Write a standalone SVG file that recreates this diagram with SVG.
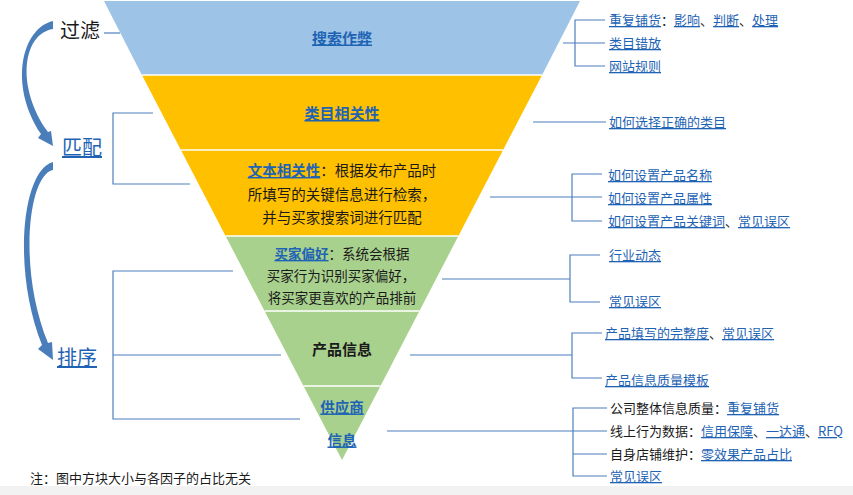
<svg xmlns="http://www.w3.org/2000/svg" width="853" height="495" viewBox="0 0 853 495">
<style>
.t{font-family:"Noto Sans CJK SC","Microsoft YaHei",sans-serif}
.lk{fill:#1F64B4;text-decoration:underline}
.bk{fill:#1a1a1a}
.r{font-size:13px}
.b{font-weight:bold}
.ln{stroke:#4F7FBE;stroke-width:1.2;fill:none}
.sep{stroke:#ffffff;stroke-width:1.5}
.arr{fill:#4A7EBA}
</style>
<rect x="0" y="0" width="853" height="495" fill="#ffffff"/>
<rect x="0" y="486" width="853" height="9" fill="#f2f2f2"/>

<g id="band-search-cheat">
<polygon points="104,1 580,1 542.1,75 141.9,75" fill="#9DC3E6"/>
<text class="t b lk" x="342" y="43.5" font-size="15" text-anchor="middle">搜索作弊</text>
</g>
<g id="band-category">
<polygon points="141.9,75 542.1,75 503.1,150 180.9,150" fill="#FFC000"/>
<text class="t b lk" x="342" y="119" font-size="15" text-anchor="middle">类目相关性</text>
</g>
<g id="band-text">
<polygon points="180.9,150 503.1,150 458.4,236 225.6,236" fill="#FFC000"/>
<text class="t" x="342" y="176" font-size="14.5" text-anchor="middle"><tspan class="lk b">文本相关性</tspan><tspan class="bk">：根据发布产品时</tspan></text>
<text class="t bk" x="342" y="199.5" font-size="14.5" text-anchor="middle">所填写的关键信息进行检索，</text>
<text class="t bk" x="342" y="222.5" font-size="14.5" text-anchor="middle">并与买家搜索词进行匹配</text>
</g>
<g id="band-buyer">
<polygon points="225.6,236 458.4,236 419.4,311 264.6,311" fill="#A9D18E"/>
<text class="t" x="342" y="259" font-size="13.5" text-anchor="middle"><tspan class="lk b">买家偏好</tspan><tspan class="bk">：系统会根据</tspan></text>
<text class="t bk" x="341" y="281" font-size="13.5" text-anchor="middle">买家行为识别买家偏好，</text>
<text class="t bk" x="342" y="303" font-size="13.5" text-anchor="middle">将买家更喜欢的产品排前</text>
</g>
<g id="band-product">
<polygon points="264.6,311 419.4,311 380.5,386 303.5,386" fill="#A9D18E"/>
<text class="t b bk" x="342" y="354.5" font-size="15" text-anchor="middle">产品信息</text>
</g>
<g id="band-supplier">
<polygon points="303.5,386 380.5,386 342,460" fill="#A9D18E"/>
<text class="t b lk" x="342" y="412.5" font-size="14.5" text-anchor="middle">供应商</text>
<text class="t b lk" x="342" y="445.5" font-size="14.5" text-anchor="middle">信息</text>
</g>
<g id="separators">
<line class="sep" x1="141.9" y1="75" x2="542.1" y2="75"/>
<line class="sep" x1="180.9" y1="150" x2="503.1" y2="150"/>
<line class="sep" x1="225.6" y1="236" x2="458.4" y2="236"/>
<line class="sep" x1="264.6" y1="311" x2="419.4" y2="311"/>
<line class="sep" x1="303.5" y1="386" x2="380.5" y2="386"/>
</g>

<g id="stage-filter"><text class="t bk" x="60" y="38" font-size="20">过滤</text></g>
<g id="stage-match"><text class="t lk" x="62" y="155" font-size="20">匹配</text></g>
<g id="stage-rank"><text class="t lk" x="57" y="365" font-size="20">排序</text></g>

<g id="connectors">
<path class="arr" d="M53,21 C22,28 8,85 41,134 L38,138 L53,146 L51,131 L48,132 C16,88 22,34 53,29 Z"/>
<path class="arr" d="M53,162 C22,170 12,270 42,345 L38,349 L53,360 L52,342 L48,343 C18,270 28,175 53,170 Z"/>
<path class="ln" d="M104,33 H120"/>
<path class="ln" d="M153,113 H113 V184 H190"/>
<path class="ln" d="M233,271 H113 V419 H300 M113,355 H281"/>
<path class="ln" d="M563,43 H605 M605,20 H575 V66 H605"/>
<path class="ln" d="M533,122 H606"/>
<path class="ln" d="M490,197 H602 M602,174 H572 V221 H602"/>
<path class="ln" d="M442,279 H570 M600,255 H570 V302 H600"/>
<path class="ln" d="M410,355 H572 M602,333 H572 V378 H602"/>
<path class="ln" d="M387,431 H607 M607,408 H573 V476 H607 M573,454 H607"/>
</g>

<g id="labels-cheat">
<text class="t r" x="609" y="25"><tspan class="lk">重复铺货</tspan><tspan class="bk">：</tspan><tspan class="lk">影响</tspan><tspan class="bk">、</tspan><tspan class="lk">判断</tspan><tspan class="bk">、</tspan><tspan class="lk">处理</tspan></text>
<text class="t r lk" x="609" y="48">类目错放</text>
<text class="t r lk" x="609" y="71">网站规则</text>
</g>
<g id="labels-category"><text class="t r lk" x="609" y="127">如何选择正确的类目</text></g>
<g id="labels-text">
<text class="t r lk" x="608" y="180">如何设置产品名称</text>
<text class="t r lk" x="608" y="203">如何设置产品属性</text>
<text class="t r" x="608" y="226"><tspan class="lk">如何设置产品关键词</tspan><tspan class="bk">、</tspan><tspan class="lk">常见误区</tspan></text>
</g>
<g id="labels-buyer">
<text class="t r lk" x="609" y="260">行业动态</text>
<text class="t r lk" x="609" y="306">常见误区</text>
</g>
<g id="labels-product">
<text class="t r" x="605" y="338"><tspan class="lk">产品填写的完整度</tspan><tspan class="bk">、</tspan><tspan class="lk">常见误区</tspan></text>
<text class="t r lk" x="605" y="385">产品信息质量模板</text>
</g>
<g id="labels-supplier">
<text class="t r" x="610" y="413"><tspan class="bk">公司整体信息质量：</tspan><tspan class="lk">重复铺货</tspan></text>
<text class="t r" x="610" y="436"><tspan class="bk">线上行为数据：</tspan><tspan class="lk">信用保障</tspan><tspan class="bk">、</tspan><tspan class="lk">一达通</tspan><tspan class="bk">、</tspan><tspan class="lk">RFQ</tspan></text>
<text class="t r" x="610" y="459"><tspan class="bk">自身店铺维护：</tspan><tspan class="lk">零效果产品占比</tspan></text>
<text class="t r lk" x="610" y="481">常见误区</text>
</g>
<g id="note"><text class="t r bk" x="30" y="483">注：图中方块大小与各因子的占比无关</text></g>
</svg>
